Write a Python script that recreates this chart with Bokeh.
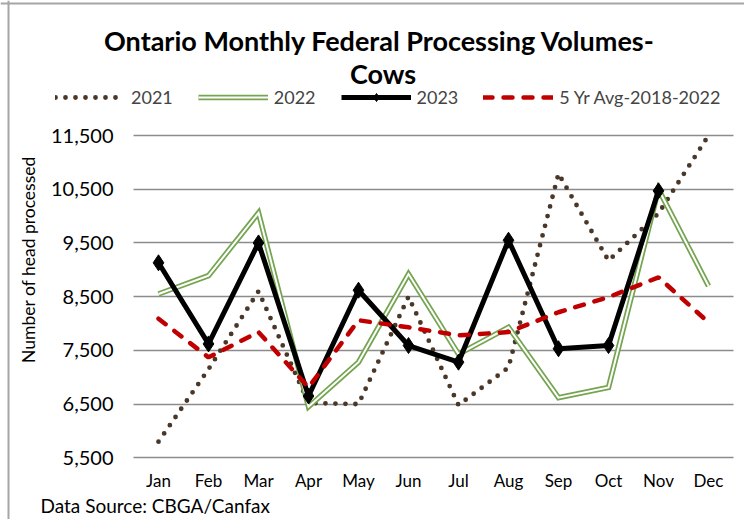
import math
from bokeh.plotting import figure
from bokeh.models import (Range1d, FixedTicker, NumeralTickFormatter, Label, Legend,
                          LegendItem, Span)
from bokeh.embed import file_html
from bokeh.resources import INLINE

months = ["Jan", "Feb", "Mar", "Apr", "May", "Jun", "Jul", "Aug", "Sep", "Oct", "Nov", "Dec"]
y2021 = [5800, 7150, 8600, 6520, 6500, 8500, 6480, 7180, 10790, 9170, 10050, 11500]
y2022 = [8550, 8890, 10060, 6450, 7280, 8920, 7430, 7930, 6620, 6810, 10500, 8700]
y2023 = [9130, 7620, 9500, 6650, 8620, 7590, 7280, 9550, 7530, 7590, 10470]
avg5 = [8090, 7370, 7840, 6810, 8060, 7930, 7780, 7840, 8210, 8490, 8860, 8020]
y_ticks = [5500, 6500, 7500, 8500, 9500, 10500, 11500]

title_line1 = "Ontario Monthly Federal  Processing Volumes-"
title_line2 = "Cows"
y_label = "Number of head processed"
source_text = "Data Source: CBGA/Canfax"

FONT = "Lato"
W, H = 744, 519
x_idx = list(range(len(months)))

# layout helpers: page pixel -> data coordinate (frame covers the whole canvas)
PX_PER_X = 50.0          # one month slot
PX_PER_Y = 322.3 / 6000  # pixels per head
def dx(px):
    return (px - 158) / PX_PER_X
def dy(py):
    return y_ticks[-1] - (py - 135) / PX_PER_Y

p = figure(width=W, height=H, x_range=Range1d(dx(0), dx(W)), y_range=Range1d(dy(H), dy(0)),
           output_backend="svg", toolbar_location=None,
           min_border_left=0, min_border_right=0, min_border_top=0, min_border_bottom=0)
p.title = None
p.outline_line_color = None
p.background_fill_color = "white"
p.border_fill_color = "white"

# y axis (drawn at the left edge of the plot area)
p.yaxis.fixed_location = dx(133)
p.yaxis.ticker = FixedTicker(ticks=y_ticks)
p.yaxis.formatter = NumeralTickFormatter(format="0,0")
p.yaxis.axis_line_color = None
p.yaxis.major_tick_line_color = None
p.yaxis.minor_tick_line_color = None
p.yaxis.major_tick_out = 0
p.yaxis.major_tick_in = 0
p.yaxis.major_label_standoff = 20
p.yaxis.major_label_text_font = FONT
p.yaxis.major_label_text_font_size = "20px"
p.yaxis.major_label_text_color = "black"

# x axis
p.xaxis.fixed_location = y_ticks[0]
p.xaxis.ticker = FixedTicker(ticks=x_idx)
p.xaxis.major_label_overrides = {i: m for i, m in zip(x_idx, months)}
p.xaxis.axis_line_color = None
p.xaxis.major_tick_line_color = None
p.xaxis.minor_tick_line_color = None
p.xaxis.major_tick_out = 0
p.xaxis.major_tick_in = 0
p.xaxis.major_label_standoff = 12
p.xaxis.major_label_text_font = FONT
p.xaxis.major_label_text_font_size = "17px"
p.xaxis.major_label_text_color = "black"

p.xgrid.grid_line_color = None
p.ygrid.grid_line_color = "#8c8c8c"
p.ygrid.grid_line_width = 1.5
try:
    p.ygrid.cross_bounds = (dx(133), dx(733))
except Exception:
    p.ygrid.grid_line_color = None
    p.segment(x0=dx(133), x1=dx(733), y0=y_ticks, y1=y_ticks, line_color="#8c8c8c", line_width=1.5)

# series
r21 = p.line(x_idx, y2021, line_color="#4a3728", line_width=4.8, line_dash="0 10", line_cap="round")
r22a = p.line(x_idx, y2022, line_color="#76a552", line_width=5.5, line_join="miter")
r22b = p.line(x_idx, y2022, line_color="white", line_width=2, line_join="miter")
r23 = p.line(x_idx[:len(y2023)], y2023, line_color="black", line_width=5)
r23m = p.scatter(x_idx[:len(y2023)], y2023, marker="diamond", size=16, color="black")
ravg = p.line(x_idx, avg5, line_color="#c00000", line_width=4.5, line_dash="9 11", line_cap="round")

legend = Legend(items=[
    LegendItem(label="2021", renderers=[r21]),
    LegendItem(label="2022", renderers=[r22a, r22b]),
    LegendItem(label="2023", renderers=[r23, r23m]),
    LegendItem(label="5 Yr Avg-2018-2022", renderers=[ravg]),
], orientation="horizontal", location=(55, H - 108), border_line_color=None,
    background_fill_alpha=0, label_text_font=FONT, label_text_font_size="18px",
    glyph_width=70, glyph_height=20, label_standoff=6, spacing=25, padding=0, margin=0)
p.add_layout(legend, "center")

p.add_layout(Label(x=dx(382.5), y=dy(40), text=title_line1,
                   text_align="center", text_baseline="middle", text_font=FONT,
                   text_font_size="27px", text_font_style="bold", text_color="black"))
p.add_layout(Label(x=dx(382.5), y=dy(73), text=title_line2,
                   text_align="center", text_baseline="middle", text_font=FONT,
                   text_font_size="27px", text_font_style="bold", text_color="black"))
p.add_layout(Label(x=dx(28), y=dy(259), text=y_label, angle=math.pi / 2,
                   text_align="center", text_baseline="middle", text_font=FONT,
                   text_font_size="17.5px", text_color="black"))
p.add_layout(Label(x=dx(40), y=dy(505), text=source_text,
                   text_align="left", text_baseline="middle", text_font=FONT,
                   text_font_size="19px", text_color="black"))

# outer frame edges seen in the original
p.add_layout(Span(location=dx(8), dimension="height", line_color="#a6a6a6", line_width=2))
p.add_layout(Span(location=dy(3), dimension="width", line_color="#a6a6a6", line_width=2))

open("out.html", "w").write(file_html(p, INLINE))
